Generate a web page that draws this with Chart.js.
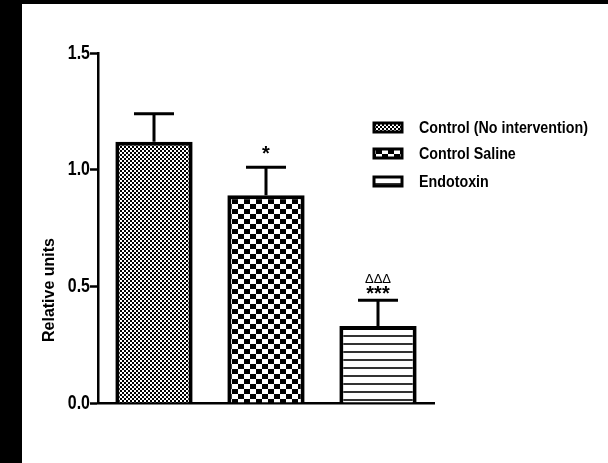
<!DOCTYPE html>
<html>
<head>
<meta charset="utf-8">
<script src="https://cdn.jsdelivr.net/npm/chart.js@4/dist/chart.umd.min.js"></script>
<style>
  html, body { margin: 0; padding: 0; background: #000; width: 608px; height: 463px; overflow: hidden; }
  #wrap { position: absolute; left: 22px; top: 4px; width: 586px; height: 459px; background: #fff; }
  canvas { display: block; }
</style>
</head>
<body>
<div id="wrap"><canvas id="c" width="586" height="459"></canvas></div>
<script>
// Groups, means and SEM (relative units)
const groups = ['Control (No intervention)', 'Control Saline', 'Endotoxin'];
const means = [1.12, 0.89, 0.33];
const sem = [0.12, 0.12, 0.11];
const starMarks = ['', '*', '***'];
const deltaMarks = ['', '', '\u0394\u0394\u0394'];
const yTicks = [0, 0.5, 1.0, 1.5];
const yTitle = 'Relative units';

const SANS = '"Liberation Sans", Arial, sans-serif';

// condensed text: the font is squeezed horizontally
function narrowText(ctx, text, x, y, size, align, squeeze, weight) {
  ctx.save();
  ctx.font = (weight || 'bold') + ' ' + size + 'px ' + SANS;
  ctx.translate(x, y);
  ctx.scale(squeeze, 1);
  ctx.textAlign = align;
  ctx.fillText(text, 0, 0);
  ctx.restore();
}

// draws text so that its inked box is centred on (x, cy)
function centredInk(ctx, text, x, cy, font) {
  ctx.save();
  ctx.font = font;
  ctx.textAlign = 'center';
  ctx.textBaseline = 'alphabetic';
  const m = ctx.measureText(text);
  const base = cy + (m.actualBoundingBoxAscent - m.actualBoundingBoxDescent) / 2;
  ctx.fillText(text, x, base);
  ctx.restore();
}

function makePattern(w, h, paint) {
  const c = document.createElement('canvas');
  c.width = w; c.height = h;
  const g = c.getContext('2d');
  g.fillStyle = '#fff';
  g.fillRect(0, 0, w, h);
  paint(g);
  return document.getElementById('c').getContext('2d').createPattern(c, 'repeat');
}

// fine checkerboard
const finePattern = makePattern(4, 4, g => {
  g.fillStyle = '#000';
  g.fillRect(0, 0, 2, 2);
  g.fillRect(2, 2, 2, 2);
});
// coarse checkerboard
const coarsePattern = makePattern(12, 10, g => {
  g.fillStyle = '#000';
  g.fillRect(0, 0, 6, 5);
  g.fillRect(6, 5, 6, 5);
});
// horizontal stripes
const stripePattern = makePattern(8, 8, g => {
  g.fillStyle = '#333';
  g.fillRect(0, 3, 8, 2);
});
const patterns = [finePattern, coarsePattern, stripePattern];

// gap between error cap and the significance marks above it
const starGap = [0, 17, 10];

const errorBars = {
  id: 'errorBars',
  afterDatasetsDraw(chart) {
    const ctx = chart.ctx;
    const y = chart.scales.y;
    const meta = chart.getDatasetMeta(0);
    ctx.save();
    ctx.strokeStyle = '#000';
    ctx.fillStyle = '#000';
    ctx.lineWidth = 3;
    meta.data.forEach((bar, i) => {
      const top = y.getPixelForValue(means[i] + sem[i]);
      ctx.beginPath();
      ctx.moveTo(bar.x, bar.y);
      ctx.lineTo(bar.x, top);
      ctx.moveTo(bar.x - 20, top);
      ctx.lineTo(bar.x + 20, top);
      ctx.stroke();
      if (starMarks[i]) {
        centredInk(ctx, starMarks[i], bar.x, top - starGap[i], 'bold 20px ' + SANS);
      }
      if (deltaMarks[i]) {
        centredInk(ctx, deltaMarks[i], bar.x, top - 22, '13px ' + SANS);
      }
    });
    ctx.restore();
  }
};

const sideText = {
  id: 'sideText',
  afterDraw(chart) {
    const ctx = chart.ctx;
    const ys = chart.scales.y;
    ctx.save();
    ctx.fillStyle = '#000';
    ctx.textBaseline = 'middle';
    // y tick labels
    yTicks.forEach(v => {
      narrowText(ctx, v.toFixed(1), ys.right - 8, ys.getPixelForValue(v), 21, 'right', 0.76);
    });
    // y-axis title
    ctx.translate(28, 286);
    ctx.rotate(-Math.PI / 2);
    narrowText(ctx, yTitle, 0, 0, 16, 'center', 1.0);
    ctx.restore();

    // legend
    ctx.save();
    const rowsY = [123, 149, 177];
    groups.forEach((name, i) => {
      const yy = rowsY[i];
      ctx.fillStyle = patterns[i];
      ctx.fillRect(352, yy - 4, 28, 9);
      ctx.strokeStyle = '#000';
      ctx.lineWidth = 3;
      ctx.strokeRect(352, yy - 4, 28, 9);
      ctx.fillStyle = '#000';
      ctx.textBaseline = 'middle';
      narrowText(ctx, name, 397, yy + 1, 17, 'left', 0.84);
    });
    ctx.restore();
  }
};

new Chart(document.getElementById('c'), {
  type: 'bar',
  data: {
    labels: groups,
    datasets: [{
      data: means,
      backgroundColor: patterns,
      borderColor: '#000',
      borderWidth: 4,
      borderSkipped: 'start',
      barPercentage: 0.69,
      categoryPercentage: 1.0
    }]
  },
  options: {
    responsive: false,
    animation: false,
    events: [],
    layout: { padding: { left: 0, top: 49, right: 174, bottom: 0 } },
    plugins: { legend: { display: false }, tooltip: { enabled: false } },
    scales: {
      x: {
        grid: { display: false },
        border: { display: true, color: '#000', width: 2.5 },
        ticks: { display: false },
        afterFit(s) { s.height = 60; }
      },
      y: {
        min: 0,
        max: 1.5,
        afterBuildTicks(s) { s.ticks = yTicks.map(v => ({ value: v })); },
        grid: { display: true, drawOnChartArea: false, drawTicks: true, tickLength: 8, tickWidth: 2.5, tickColor: '#000' },
        border: { display: true, color: '#000', width: 2.5 },
        ticks: { display: false },
        afterFit(s) { s.width = 76; }
      }
    }
  },
  plugins: [errorBars, sideText]
});
</script>
</body>
</html>
